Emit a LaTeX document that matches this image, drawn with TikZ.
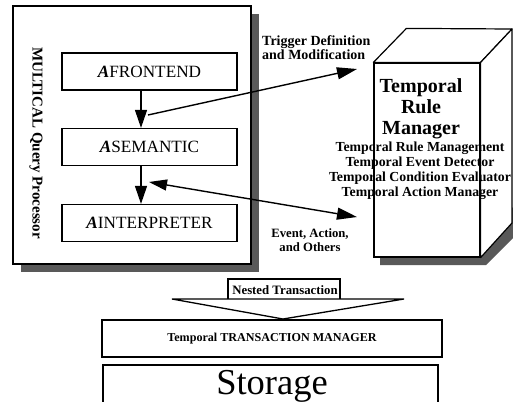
\documentclass[tikz,border=0pt]{standalone}
\usepackage{fontspec}
\setmainfont{Liberation Serif}
\usetikzlibrary{arrows.meta}
\begin{document}
\begin{tikzpicture}[x=1pt,y=-1pt,
  shadowfill/.style={fill=black!65},
  inbox/.style={draw,line width=1.2pt,fill=white,minimum width=175pt,minimum height=37pt,inner sep=0pt,font=\fontsize{17.2}{19}\selectfont},
  varr/.style={line width=1.3pt,-{Triangle[length=18pt,width=12pt]}},
  bigarr/.style={line width=1.4pt,-{Triangle[length=20pt,width=12pt]}},
  dblarr/.style={line width=1.4pt,{Triangle[length=18pt,width=11pt]}-{Triangle[length=20pt,width=12pt]}},
  lbl/.style={font=\bfseries\fontsize{14}{14}\selectfont,inner sep=0pt},
]
\useasboundingbox (0,0) rectangle (513,401);
\clip (0,0) rectangle (513,401);

% outer query processor box with shadow
\fill[shadowfill] (21,14) rectangle (259,272);
\node[draw,line width=1.4pt,fill=white,minimum width=238pt,minimum height=258pt,inner sep=0pt] (mqp) at (132,135) {};
\node[rotate=-90,font=\bfseries\fontsize{15}{17}\selectfont,inner sep=0pt] (mqpl) at (36,143) {MULTICAL Query Processor};

% inner boxes
\node[inbox] (fe) at (149.5,71.5) {\textbf{\textit{A}}FRONTEND};
\node[inbox] (se) at (149.5,147) {\textbf{\textit{A}}SEMANTIC};
\node[inbox] (ie) at (149.5,223) {\textbf{\textit{A}}INTERPRETER};
\draw[varr] ([xshift=-8.5pt]fe.south) -- ([xshift=-8.5pt]se.north);
\draw[varr] ([xshift=-8.5pt]se.south) -- ([xshift=-8.5pt]ie.north);

% temporal rule manager cube
\fill[shadowfill] (380,250) -- (380,265) -- (486,265) -- (520,231) -- (520,200) -- (480,240) -- cycle;
\node[draw,line width=1.2pt,fill=white,minimum width=106pt,minimum height=194pt,inner sep=0pt] (trm) at (427,160) {};
\draw[line width=1.2pt,fill=white,line join=round] (trm.north west) -- ++(33,-34) -- (512,29) -- (trm.north east) -- cycle;
\draw[line width=1.2pt,fill=white,line join=round] (trm.north east) -- (512,29) -- (512,223) -- (trm.south east) -- cycle;
\node[font=\bfseries\fontsize{20}{21}\selectfont,align=center,inner sep=0pt] (trmt) at (421,109) {Temporal\\Rule\\Manager};
\node[font=\bfseries\fontsize{13.8}{15}\selectfont,align=center,inner sep=0pt] (trml) at (420,171) {Temporal Rule Management\\Temporal Event Detector\\Temporal Condition Evaluator\\Temporal Action Manager};

% connectors to rule manager
\coordinate (t0) at (148,115);
\coordinate (t1) at (357,69);
\draw[bigarr] (t0) -- (t1);
\node[lbl,align=left,anchor=north west] (trig) at (262,35) {Trigger Definition\\and Modification};
\coordinate (e0) at (149,182);
\coordinate (e1) at (357,217);
\draw[dblarr] (e0) -- (e1);
\node[lbl,font=\bfseries\fontsize{12.7}{14}\selectfont,align=center] (evt) at (310,240) {Event, Action,\\and Others};

% nested transaction arrow
\coordinate (n0) at (172,299);
\coordinate (n1) at (404,299);
\coordinate (ntip) at (283,319);
\draw[line width=1.3pt,fill=white,line join=miter] (n0) -- (n1) -- (ntip) -- cycle;
\draw[line width=1.3pt] (228,299) -- (228,279) -- (340,279) -- (340,299);
\node[font=\bfseries\fontsize{12.8}{14}\selectfont,inner sep=0pt] (nt) at (285,290) {Nested Transaction};

% transaction manager and storage
\node[draw,line width=2pt,minimum width=340pt,minimum height=37pt,inner sep=0pt,font=\bfseries\fontsize{12.1}{13}\selectfont] (tm) at (272,338.5) {Temporal TRANSACTION MANAGER};
\node[draw,line width=2pt,minimum width=335pt,minimum height=50pt,inner sep=0pt] (st) at (270.5,390) {};
\node[font=\fontsize{36.5}{38}\selectfont,anchor=base,inner sep=0pt] (stl) at (272,394) {Storage};
\end{tikzpicture}
\end{document}
